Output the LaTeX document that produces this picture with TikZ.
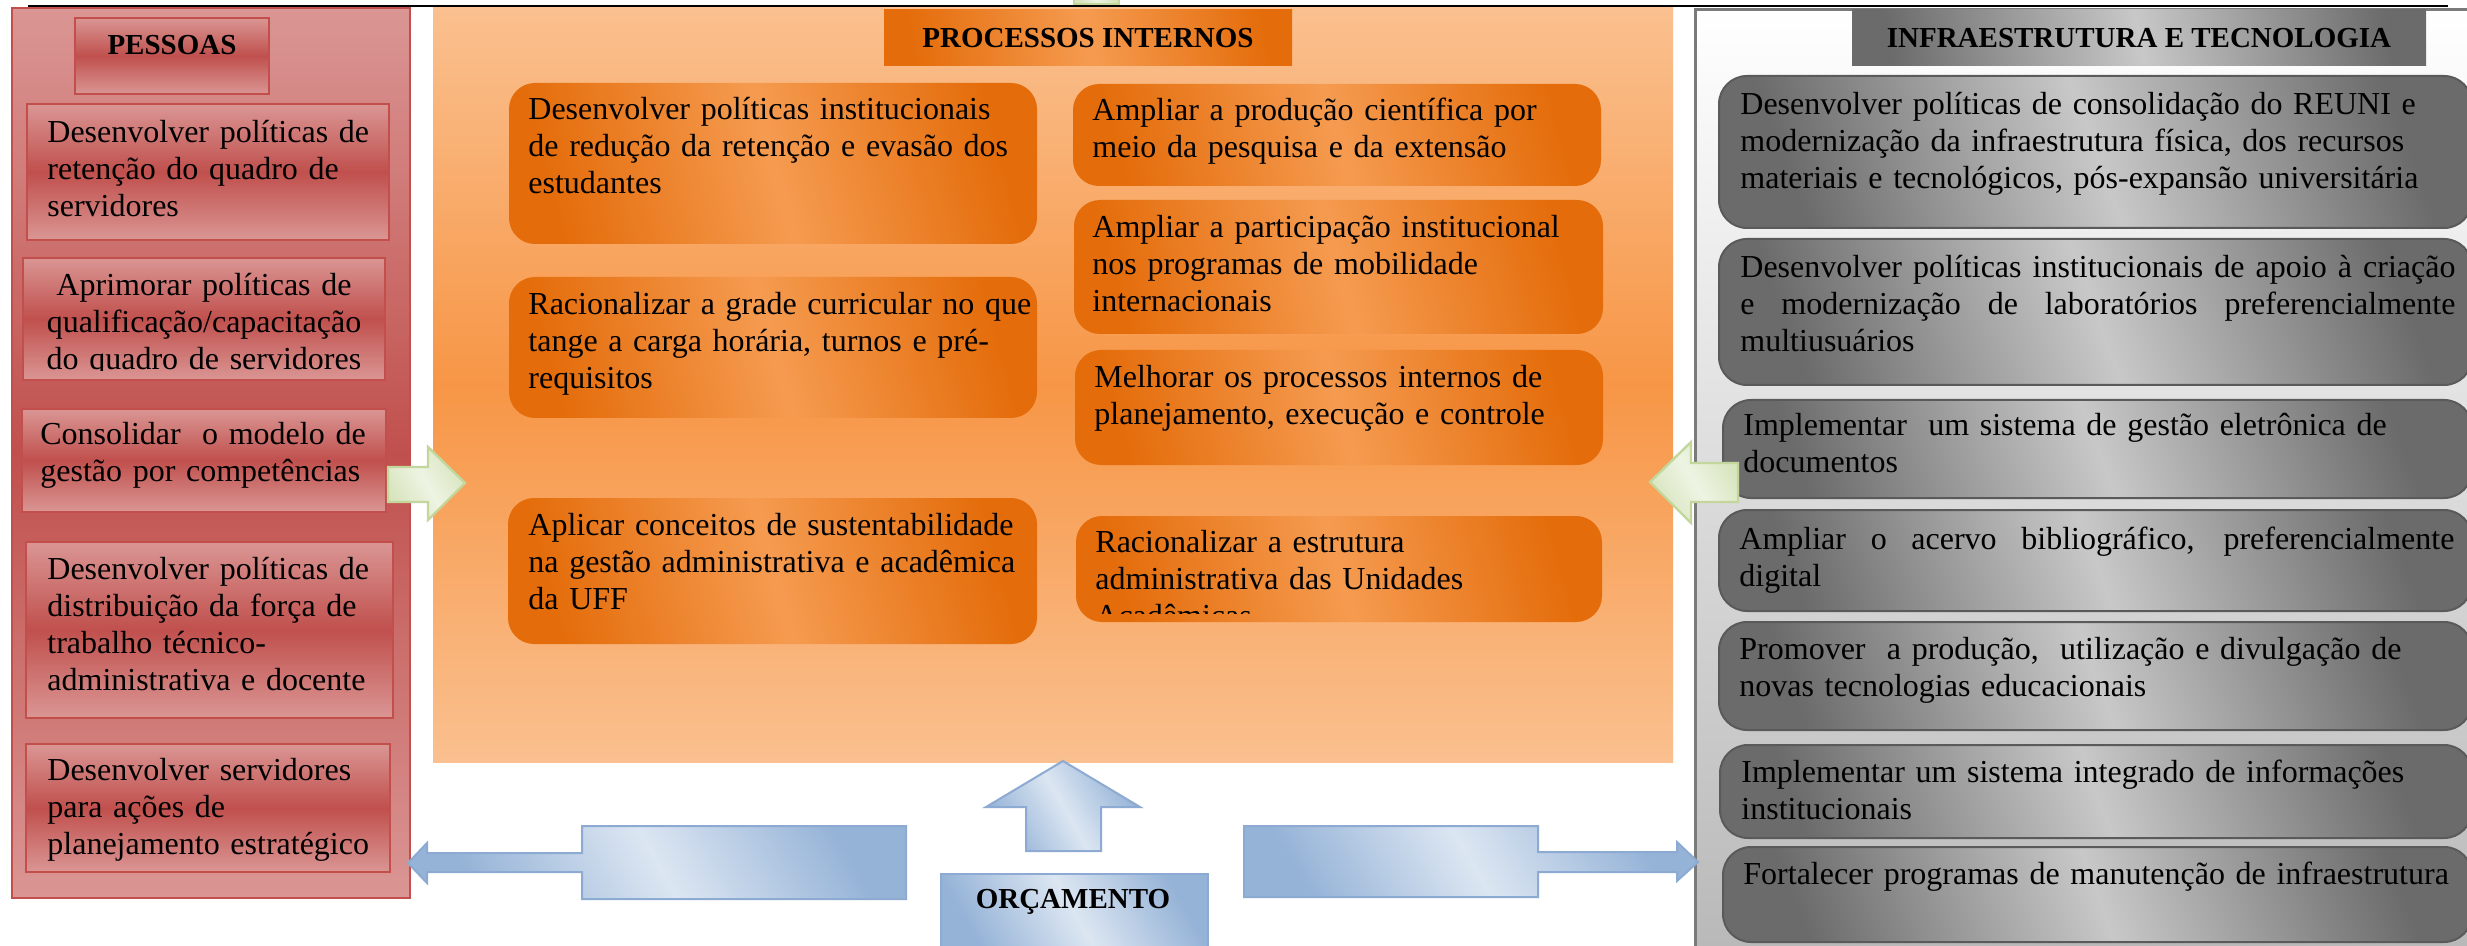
\documentclass[tikz,border=0pt]{standalone}
\usepackage{fontspec}
\setmainfont{Liberation Serif}
\definecolor{rdk}{HTML}{C0504D}
\definecolor{rlt}{HTML}{DA9694}
\definecolor{rbd}{HTML}{C24F4C}
\definecolor{orP1}{HTML}{FAC08F}
\definecolor{orP2}{HTML}{F79646}
\definecolor{orB1}{HTML}{E46C0A}
\definecolor{orB2}{HTML}{F59B50}
\definecolor{bl1}{HTML}{95B3D7}
\definecolor{bl2}{HTML}{DCE6F2}
\definecolor{blb}{HTML}{8DAAD2}
\definecolor{gr1}{HTML}{D7E4BD}
\definecolor{gr2}{HTML}{EEF4E3}
\definecolor{grb}{HTML}{C3D69B}
\definecolor{gy1}{HTML}{6B6B6B}
\definecolor{gy2}{HTML}{C8C8C8}
\definecolor{gyb}{HTML}{5A5A5A}
\definecolor{gyp}{HTML}{B8B8B8}
\newcommand{\fl}{\rule{0pt}{14pt}}
\begin{document}
\begin{tikzpicture}[x=0.5pt,y=-0.5pt,
  redpanel/.style={draw=rbd, line width=1pt, top color=rlt, bottom color=rlt, middle color=rdk},
  redbox/.style={draw=rbd, line width=1pt, top color=rlt, bottom color=rlt, middle color=rdk},
  orpanel/.style={top color=orP1, bottom color=orP1, middle color=orP2},
  orbox/.style={rounded corners=13pt, left color=orB1, right color=orB1, middle color=orB2, shading angle=105},
  orhead/.style={left color=orB1, right color=orB1, middle color=orB2, shading angle=100},
  bluearrow/.style={draw=blb, line width=1pt, left color=bl1, right color=bl1, middle color=bl2, shading angle=120},
  greenarrow/.style={draw=grb, line width=1.2pt, left color=gr1, right color=gr1, middle color=gr2, shading angle=120},
  graypanel/.style={draw=gy1!90, line width=1.5pt, top color=white, bottom color=gyp},
  graybox/.style={draw=gyb, line width=1pt, rounded corners=14pt, left color=gy1, right color=gy1, middle color=gy2, shading angle=110},
  grayhead/.style={left color=gy1, right color=gy1, middle color=gy2, shading angle=100},
  body/.style={inner sep=0pt, anchor=north west, align=left, text width=380pt, font=\fontsize{16}{18.5}\selectfont},
  bodyc/.style={inner sep=0pt, anchor=north, align=center, text width=180pt, font=\fontsize{16}{18.5}\selectfont},
  bodyj/.style={inner sep=0pt, anchor=north west, align=justify, text width=357.5pt, font=\fontsize{16}{18.5}\selectfont},
  hdr/.style={inner sep=0pt, font=\fontsize{14.5}{17}\selectfont\bfseries}]
\useasboundingbox (0,0) rectangle (2467,946);
\fill[white] (0,0) rectangle (2467,946);

% ===== PESSOAS =====
\path[redpanel] (12,8) rectangle (410,898);
\path[redbox] (75,18) rectangle (269,94);
\node[hdr] (pessoas) at (172,45) {PESSOAS};
\path[redbox] (27,104) rectangle (389,240);
\node[body] (p1) at (47,114) {\fl Desenvolver políticas de\\retenção do quadro de\\servidores};
\path[redbox] (23,258) rectangle (385,380);
\begin{scope}
\clip (23,258) rectangle (385,371);
\node[bodyc] (p2) at (204,267) {\fl Aprimorar políticas de\\qualificação/capacitação\\do quadro de servidores};
\end{scope}
\path[redbox] (22,409) rectangle (386,512);
\node[body] (p3) at (40,416) {\fl Consolidar\ \ o modelo de\\gestão por competências};
\path[redbox] (26,542) rectangle (393,718);
\node[body] (p4) at (47,551) {\fl Desenvolver políticas de\\distribuição da força de\\trabalho técnico-\\administrativa e docente};
\path[redbox] (26,744) rectangle (390,872);
\begin{scope}
\clip (26,744) rectangle (390,861);
\node[body] (p5) at (47,752) {\fl Desenvolver servidores\\para ações de\\planejamento estratégico};
\end{scope}

% ===== PROCESSOS INTERNOS =====
\path[orpanel] (433,8) rectangle (1673,762);
\path[orhead] (884,10) rectangle (1292,66);
\node[hdr] (proc) at (1088,38) {PROCESSOS INTERNOS};
\path[orbox] (509,83) rectangle (1037,244);
\node[body] (c1) at (528,91) {\fl Desenvolver políticas institucionais\\de redução da retenção e evasão dos\\estudantes};
\path[orbox] (509,277) rectangle (1037,418);
\node[body] (c2) at (528,286) {\fl Racionalizar a grade curricular no que\\tange a carga horária, turnos e pré-\\requisitos};
\path[orbox] (508,498) rectangle (1037,644);
\node[body] (c3) at (528,507) {\fl Aplicar conceitos de sustentabilidade\\na gestão administrativa e acadêmica\\da UFF};
\path[orbox] (1073,84) rectangle (1601,186);
\node[body] (r1) at (1092,92) {\fl Ampliar a produção científica por\\meio da pesquisa e da extensão};
\path[orbox] (1074,200) rectangle (1603,334);
\node[body] (r2) at (1092,209) {\fl Ampliar a participação institucional\\nos programas de mobilidade\\internacionais};
\path[orbox] (1075,350) rectangle (1603,465);
\node[body] (r3) at (1094,359) {\fl Melhorar os processos internos de\\planejamento, execução e controle};
\path[orbox] (1076,516) rectangle (1602,622);
\begin{scope}
\clip (1076,516) rectangle (1602,613);
\node[body] (r4) at (1095,524) {\fl Racionalizar a estrutura\\administrativa das Unidades\\Acadêmicas};
\end{scope}

% ===== INFRAESTRUTURA =====
\path[graypanel] (1695,10) rectangle (2490,960);
\path[grayhead] (1852,10) rectangle (2426,66);
\node[hdr] (infra) at (2139,38) {INFRAESTRUTURA E TECNOLOGIA};
\path[graybox] (1719,76) rectangle (2472,228);
\node[body] (g1) at (1740,86) {\fl Desenvolver políticas de consolidação do REUNI e\\modernização da infraestrutura física, dos recursos\\materiais e tecnológicos, pós-expansão universitária};
\path[graybox] (1719,239) rectangle (2472,385);
\node[bodyj] (g2) at (1740,249) {\fl Desenvolver políticas institucionais de apoio à criação\linebreak e modernização de laboratórios preferencialmente\linebreak multiusuários};
\path[graybox] (1723,400) rectangle (2472,498);
\node[body] (g3) at (1743,407) {\fl Implementar\ \ um sistema de gestão eletrônica de\\documentos};
\path[graybox] (1719,510) rectangle (2472,611);
\node[bodyj] (g4) at (1739,521) {\fl Ampliar o acervo bibliográfico, preferencialmente\linebreak digital};
\path[graybox] (1719,622) rectangle (2472,730);
\node[body] (g5) at (1739,631) {\fl Promover\ \ a produção,\ \ utilização e divulgação de\\novas tecnologias educacionais};
\path[graybox] (1720,745) rectangle (2472,838);
\node[body] (g6) at (1741,754) {\fl Implementar um sistema integrado de informações\\institucionais};
\path[graybox] (1723,847) rectangle (2472,942);
\node[body] (g7) at (1743,856) {\fl Fortalecer programas de manutenção de infraestrutura};

% ===== top line and top green fragment =====
\path[greenarrow] (1074,-4) rectangle (1119,4);
\draw[line width=1.1pt] (28,6) -- (2448,6);

% ===== green arrows =====
\path[greenarrow] (388,467) -- (428,467) -- (428,447) -- (465,483) -- (428,520) -- (428,502) -- (388,502) -- cycle;
\path[greenarrow] (1738,463) -- (1691,463) -- (1691,442) -- (1650,482) -- (1691,523) -- (1691,502) -- (1738,502) -- cycle;

% ===== ORCAMENTO =====
\path[bluearrow] (1026,851) -- (1026,807) -- (986,807) -- (1063,761) -- (1140,807) -- (1101,807) -- (1101,851) -- cycle;
\path[bluearrow] (941,874) rectangle (1208,952);
\node[hdr] (orc) at (1073,902) {ORÇAMENTO};
\path[bluearrow] (906,826) -- (906,899) -- (582,899) -- (582,872) -- (427,872) -- (427,883) -- (408,863) -- (427,843) -- (427,853) -- (582,853) -- (582,826) -- cycle;
\path[bluearrow] (1244,826) -- (1538,826) -- (1538,852) -- (1677,852) -- (1677,842) -- (1698,862) -- (1677,881) -- (1677,872) -- (1538,872) -- (1538,897) -- (1244,897) -- cycle;
\end{tikzpicture}
\end{document}
